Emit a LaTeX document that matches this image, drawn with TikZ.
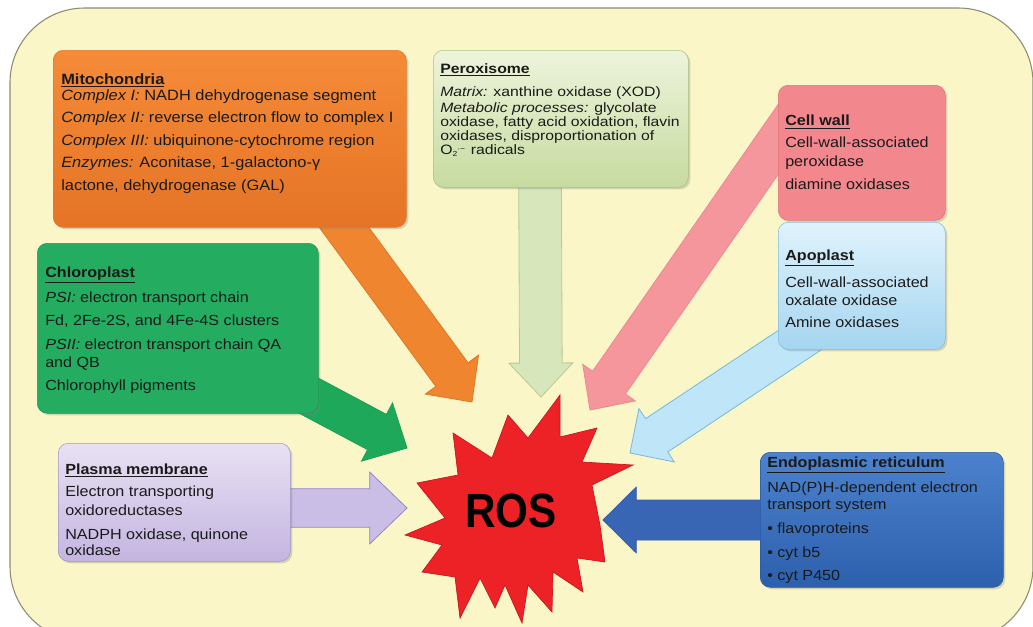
\documentclass[tikz,border=0pt]{standalone}
\usepackage{fontspec}
\setmainfont{Liberation Sans}[FakeStretch=1.1]
\newfontfamily\rosfont{Liberation Sans}[FakeStretch=0.88]
\newfontfamily\perfont{Liberation Sans}[FakeStretch=1.16]
\usetikzlibrary{calc,shadows}
\definecolor{bgyellow}{HTML}{FAF6C8}
\definecolor{bgline}{HTML}{8C8C70}
\definecolor{txtcol}{HTML}{1A1A1A}
\definecolor{mitotop}{HTML}{F58B38}
\definecolor{mitobot}{HTML}{E57426}
\definecolor{mitoline}{HTML}{E07A30}
\definecolor{peroxtop}{HTML}{EEF4DC}
\definecolor{peroxbot}{HTML}{C6DBA0}
\definecolor{peroxline}{HTML}{A8C283}
\definecolor{cellw}{HTML}{F2888D}
\definecolor{cellwline}{HTML}{E07478}
\definecolor{apotop}{HTML}{E0F3FC}
\definecolor{apobot}{HTML}{A5D5F0}
\definecolor{apoline}{HTML}{84BEDD}
\definecolor{chloro}{HTML}{24AD60}
\definecolor{chloroline}{HTML}{1F9A55}
\definecolor{plasmatop}{HTML}{E8E1F3}
\definecolor{plasmabot}{HTML}{C4B5E0}
\definecolor{plasmaline}{HTML}{A294CA}
\definecolor{ertop}{HTML}{4C82CD}
\definecolor{erbot}{HTML}{2D60AC}
\definecolor{erline}{HTML}{2A58A0}
\definecolor{rosred}{HTML}{EC2227}
\definecolor{rosline}{HTML}{C8161B}
\definecolor{aorange}{HTML}{F08530}
\definecolor{aorangel}{HTML}{E27624}
\definecolor{apale}{HTML}{D8E6BC}
\definecolor{apalel}{HTML}{B5CC8E}
\definecolor{apink}{HTML}{F4969B}
\definecolor{apinkl}{HTML}{EC8A90}
\definecolor{alblue}{HTML}{BFE5F9}
\definecolor{albluel}{HTML}{72B9DC}
\definecolor{agreen}{HTML}{1EA95A}
\definecolor{agreenl}{HTML}{1C9E54}
\definecolor{alav}{HTML}{CABDE6}
\definecolor{alavl}{HTML}{9887C4}
\definecolor{ablue}{HTML}{3965B5}
\definecolor{abluel}{HTML}{3460AE}
\newcommand\blockarrow[6]{%
  \coordinate (ba-n) at ($(#3)!#6!(#2)$);
  \path[#1] ($(#2)!#4!90:(#3)$) -- ($(ba-n)!#4!90:(#3)$) -- ($(ba-n)!#5!90:(#3)$) -- (#3)
    -- ($(ba-n)!#5!-90:(#3)$) -- ($(ba-n)!#4!-90:(#3)$) -- ($(#2)!#4!-90:(#3)$) -- cycle;
}
\tikzset{
  box/.style={rectangle, rounded corners=7.5pt, anchor=north west, inner sep=0pt,
    drop shadow={shadow xshift=1.5pt, shadow yshift=-1.5pt, opacity=0.3}},
  txt/.style={anchor=north west, inner sep=0pt, align=left, text=txtcol,
    font=\fontsize{11}{12}\selectfont},
  arr/.style={line width=0.6pt, line join=miter}
}
\begin{document}
\begin{tikzpicture}[x=0.75pt, y=-0.75pt]
\useasboundingbox (0,0) rectangle (1033,626);
\clip (0,0) rectangle (1033,626);
% background
\path[fill=bgyellow, draw=bgline, line width=0.8pt, rounded corners=56pt] (10,8) rectangle (1033,641);

% arrow coordinates
\coordinate (oS) at (335,215); \coordinate (oT) at (472,402);
\coordinate (pS) at (540,180); \coordinate (pT) at (541,397);
\coordinate (kS) at (800,108); \coordinate (kT) at (590,410);
\coordinate (lS) at (830,320); \coordinate (lT) at (630,453);
\coordinate (gS) at (285,383); \coordinate (gT) at (407,448);
\coordinate (vS) at (280,508); \coordinate (vT) at (407,508);
\coordinate (bS) at (780,520); \coordinate (bT) at (603,520);

\blockarrow{arr, fill=aorange, draw=aorangel}{oS}{oT}{15pt}{24.75pt}{25.5pt}
\blockarrow{arr, fill=apale, draw=apalel}{pS}{pT}{16pt}{24pt}{25.5pt}
\blockarrow{arr, fill=apink, draw=apinkl}{kS}{kT}{15pt}{24pt}{25pt}
\blockarrow{arr, fill=alblue, draw=albluel}{lS}{lT}{15pt}{24pt}{24pt}
\blockarrow{arr, fill=agreen, draw=agreenl}{gS}{gT}{15pt}{24.75pt}{25.5pt}
\blockarrow{arr, fill=alav, draw=alavl}{vS}{vT}{14.5pt}{27pt}{28pt}
\blockarrow{arr, fill=ablue, draw=abluel}{bS}{bT}{15pt}{24.75pt}{25pt}

% boxes
\node[box, top color=mitotop, bottom color=mitobot, draw=mitoline,
  minimum width=264.75pt, minimum height=132.75pt] (mito) at (53,50) {};
\node[box, top color=peroxtop, bottom color=peroxbot, draw=peroxline,
  minimum width=191.25pt, minimum height=102.75pt] (perox) at (433,50) {};
\node[box, fill=cellw, draw=cellwline,
  minimum width=125.25pt, minimum height=101.25pt] (cellwall) at (778,85) {};
\node[box, top color=apotop, bottom color=apobot, draw=apoline,
  minimum width=125.25pt, minimum height=95.25pt] (apo) at (778,222) {};
\node[box, fill=chloro, draw=chloroline,
  minimum width=210.75pt, minimum height=127.5pt] (chl) at (37,243) {};
\node[box, top color=plasmatop, bottom color=plasmabot, draw=plasmaline,
  minimum width=174pt, minimum height=88.5pt] (pm) at (58,443) {};
\node[box, top color=ertop, bottom color=erbot, draw=erline,
  minimum width=182.25pt, minimum height=101.25pt] (er) at (760,452) {};

% ROS star
\path[fill=rosred, draw=rosline, line width=0.5pt]
  (560,395) -- (560,437) -- (597,428) -- (582,462) -- (633,465) -- (592,485)
  -- (600,525) -- (605,562) -- (577,558) -- (583,592) -- (553,572) -- (552,612)
  -- (528,585) -- (522,623) -- (505,585) -- (495,608) -- (480,578) -- (460,618)
  -- (455,577) -- (422,572) -- (442,545) -- (405,535) -- (445,518) -- (417,483)
  -- (458,475) -- (453,433) -- (492,458) -- (508,415) -- (528,438) -- cycle;
\node[anchor=base, inner sep=0pt, text=black, font=\rosfont\bfseries\fontsize{36}{36}\selectfont] (ros) at (511,527) {ROS};

% texts
\node[txt, font=\fontsize{11.2}{12}\selectfont] (mitot) at (61,72) {\rule{0pt}{9pt}\underline{\textbf{Mitochondria}}\\[0.5pt]
\textit{Complex I:} NADH dehydrogenase segment\\[4.5pt]
\textit{Complex II:} reverse electron flow to complex I\\[4.7pt]
\textit{Complex III:} ubiquinone-cytochrome region\\[5pt]
\textit{Enzymes:} Aconitase, 1-galactono-γ\\[4.7pt]
lactone, dehydrogenase (GAL)};

\node[txt, font=\perfont\fontsize{10.2}{11.5}\selectfont] (peroxt) at (440,61.3) {\rule{0pt}{9pt}\underline{\textbf{Peroxisome}}\\[6pt]
\textit{Matrix:} xanthine oxidase (XOD)\\[0.5pt]
\textit{Metabolic processes:} glycolate\\[-1.4pt]
oxidase, fatty acid oxidation, flavin\\[-0.7pt]
oxidases, disproportionation of\\[-1.2pt]
O\raisebox{-1.6pt}{\fontsize{5.5}{5.5}\selectfont 2}\raisebox{2.6pt}{\fontsize{5.5}{5.5}\selectfont ·−}\hspace{1pt} radicals};

\node[txt] (cellwallt) at (785,113.7) {\rule{0pt}{9pt}\underline{\textbf{Cell wall}}\\[4.5pt]
Cell-wall-associated\\[1.7pt]
peroxidase\\[5.5pt]
diamine oxidases};

\node[txt] (apot) at (785,248) {\rule{0pt}{9pt}\underline{\textbf{Apoplast}}\\[7.3pt]
Cell-wall-associated\\[1.2pt]
oxalate oxidase\\[5pt]
Amine oxidases};

\node[txt] (chlt) at (45,265.3) {\rule{0pt}{9pt}\underline{\textbf{Chloroplast}}\\[5.8pt]
\textit{PSI:} electron transport chain\\[5.25pt]
Fd, 2Fe-2S, and 4Fe-4S clusters\\[5.5pt]
\textit{PSII:} electron transport chain QA\\[2pt]
and QB\\[5.25pt]
Chlorophyll pigments};

\node[txt] (pmt) at (65,462) {\rule{0pt}{9pt}\underline{\textbf{Plasma membrane}}\\[5pt]
Electron transporting\\[1.7pt]
oxidoreductases\\[6.2pt]
NADPH oxidase, quinone\\[0pt]
oxidase};

\node[txt] (ert) at (767,455.3) {\rule{0pt}{9pt}\underline{\textbf{Endoplasmic reticulum}}\\[5.5pt]
NAD(P)H-dependent electron\\[0.5pt]
transport system\\[6.3pt]
• flavoproteins\\[6.2pt]
• cyt b5\\[5.25pt]
• cyt P450};
\end{tikzpicture}
\end{document}
